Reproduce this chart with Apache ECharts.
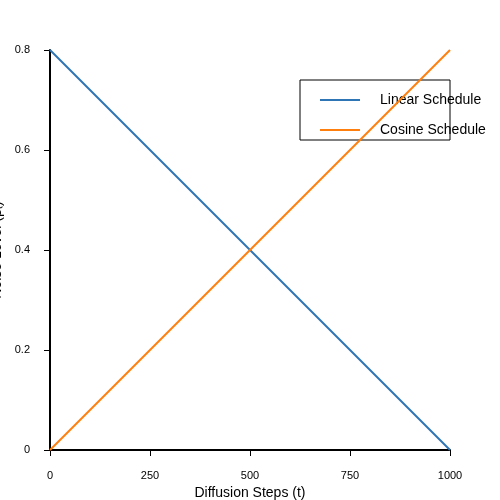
<!DOCTYPE html>
<html><head><meta charset="utf-8">
<script src="https://cdn.jsdelivr.net/npm/echarts@6/dist/echarts.min.js"></script>
<style>html,body{margin:0;padding:0;background:#fff}#c{width:500px;height:500px}</style>
</head><body><div id="c"></div>
<script>
const steps = [0, 1000];
const linear = [0.8, 0];
const cosine = [0, 0.8];
const xTicks = [0, 250, 500, 750, 1000];
const chart = echarts.init(document.getElementById('c'));
const font = 'Liberation Sans, Arial, sans-serif';
chart.setOption({
  animation: false,
  backgroundColor: '#fff',
  grid: {left: 50, right: 50, top: 50, bottom: 50, containLabel: false, outerBoundsMode: 'none'},
  xAxis: {type: 'value', min: 0, max: 1000, interval: 250,
    name: 'Diffusion Steps (t)', nameLocation: 'middle', nameGap: 25,
    nameTextStyle: {color: '#000', fontSize: 14, fontFamily: font},
    axisLine: {lineStyle: {color: '#000', width: 2}},
    axisTick: {show: true, length: 6, lineStyle: {color: '#000'}},
    axisLabel: {color: '#000', fontSize: 11, fontFamily: font, margin: 20, formatter: v => String(v)},
    splitLine: {show: false}},
  yAxis: {type: 'value', min: 0, max: 0.8, interval: 0.2,
    name: 'Noise Level (βₜ)', nameLocation: 'middle', nameGap: 35,
    nameTextStyle: {color: '#000', fontSize: 14, fontFamily: font},
    axisLine: {show: true, lineStyle: {color: '#000', width: 2}},
    axisTick: {show: true, length: 6, lineStyle: {color: '#000'}},
    axisLabel: {color: '#000', fontSize: 11, fontFamily: font, margin: 20,
      formatter: v => v === 0 ? '0' : v.toFixed(1)},
    splitLine: {show: false}},
  legend: {show: false},
  series: [
    {name: 'Linear Schedule', type: 'line', data: steps.map((s,i)=>[s, linear[i]]),
     showSymbol: false, lineStyle: {color: '#2e75b6', width: 2}, itemStyle: {color: '#2e75b6'}},
    {name: 'Cosine Schedule', type: 'line', data: steps.map((s,i)=>[s, cosine[i]]),
     showSymbol: false, lineStyle: {color: '#ff7f0e', width: 2}, itemStyle: {color: '#ff7f0e'}}
  ],
  graphic: [
    {type: 'rect', shape: {x: 300, y: 80, width: 150, height: 60}, style: {fill: '#fff', stroke: '#000', lineWidth: 1}},
    {type: 'line', shape: {x1: 320, y1: 100, x2: 360, y2: 100}, style: {stroke: '#2e75b6', lineWidth: 2}},
    {type: 'text', x: 380, y: 100, style: {text: 'Linear Schedule', fill: '#000', font: '14px ' + font, textVerticalAlign: 'middle'}},
    {type: 'line', shape: {x1: 320, y1: 130, x2: 360, y2: 130}, style: {stroke: '#ff7f0e', lineWidth: 2}},
    {type: 'text', x: 380, y: 130, style: {text: 'Cosine Schedule', fill: '#000', font: '14px ' + font, textVerticalAlign: 'middle'}}
  ]
});
</script></body></html>
